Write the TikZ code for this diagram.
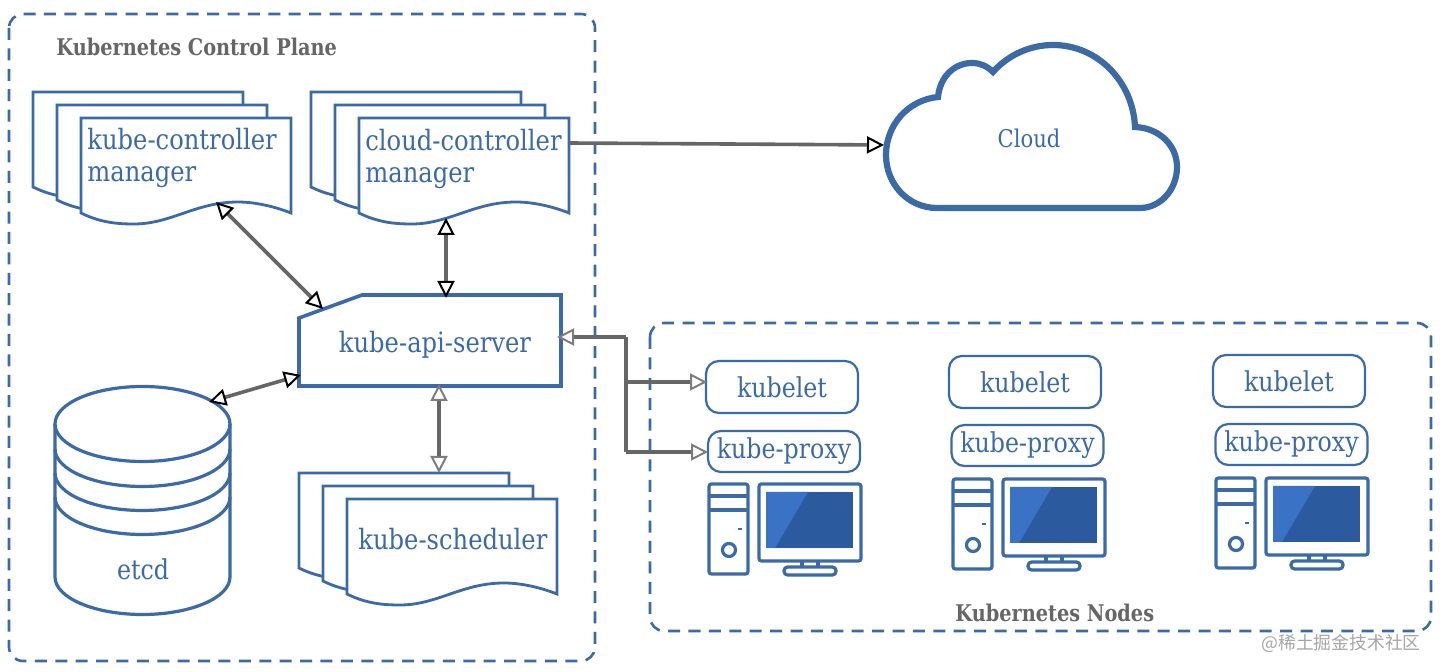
\documentclass[tikz,border=0pt]{standalone}
\usepackage{fontspec}
\usetikzlibrary{arrows.meta}
\newfontfamily\slab[FakeStretch=0.865]{DejaVu Serif}
\newfontfamily\slabb[FakeStretch=0.84]{DejaVu Serif Bold}
\newfontfamily\cjkwm{Noto Sans CJK SC}
\definecolor{kblue}{HTML}{3B6AA6}
\definecolor{kline}{HTML}{666666}
\definecolor{scrdark}{HTML}{2C5A9F}
\definecolor{scrlight}{HTML}{3A72C6}
\tikzset{
  x=.5pt,y=-.5pt,
  shapeline/.style={draw=kblue,line width=1.4pt,fill=white,line join=miter},
  dashbox/.style={draw=kblue,line width=1.3pt,rounded corners=7pt,dash pattern=on 6pt off 4.2pt},
  label/.style={text=kblue,inner sep=0pt,font=\slab\fontsize{14}{16}\selectfont},
  title/.style={text=kline,inner sep=0pt,font=\slabb\fontsize{11.5}{14}\selectfont},
  pillbox/.style={draw=kblue,line width=1.1pt,fill=white,rounded corners=6.5pt,inner sep=0pt,text=kblue,font=\slab\fontsize{13.7}{16}\selectfont},
  blackconn/.style={draw=kline,line width=1.8pt,{Triangle[length=8.5pt,width=8.5pt,fill=white,color=black,line width=1pt]}-{Triangle[length=8.5pt,width=8.5pt,fill=white,color=black,line width=1pt]}},
  grayconn/.style={draw=kline,line width=1.8pt,{Triangle[length=8.5pt,width=8.5pt,fill=white,color=kline!85,line width=1pt]}-{Triangle[length=8.5pt,width=8.5pt,fill=white,color=kline!85,line width=1pt]}},
  feed/.style={draw=kline,line width=1.8pt,-{Triangle[length=8.5pt,width=8.5pt,fill=white,color=kline!85,line width=1pt]}},
}
% one sheet: #1 left, #2 top
\newcommand{\sheet}[2]{%
  \draw[shapeline,shift={(#1,#2)}] (0,95) -- (0,0) -- (210,0) -- (210,95)
    .. controls (195,89) and (175,84) .. (157,84)
    .. controls (115,84) and (90,106) .. (53,106)
    .. controls (38,106) and (20,105) .. (0,95) -- cycle;}
\newcommand{\stackdoc}[2]{\sheet{#1}{#2}\sheet{\numexpr#1+24\relax}{\numexpr#2+13\relax}\sheet{\numexpr#1+48\relax}{\numexpr#2+26\relax}}
% computer, offset #1,#2
\newcommand{\pc}[2]{%
  \begin{scope}[shift={(#1,#2)}]
    \draw[kblue,line width=1.6pt,rounded corners=1.2pt] (709,484) rectangle (748,574);
    \draw[kblue,line width=1.6pt] (709,496) -- (748,496) (709,510) -- (748,510);
    \draw[kblue,line width=1.1pt] (738,529) -- (742,529);
    \draw[kblue,line width=1.6pt] (729,550) circle[radius=6.5];
    \draw[kblue,line width=1.6pt,rounded corners=1.2pt] (759,484) rectangle (861,561);
    \fill[scrdark] (766,492) rectangle (853,548);
    \fill[scrlight] (766,492) -- (808,492) -- (775,548) -- (766,548) -- cycle;
    \draw[kblue,line width=1.6pt] (802,561) -- (802,567) (818,561) -- (818,567);
    \draw[kblue,line width=1.6pt,rounded corners=1.8pt] (784,567) rectangle (836,575);
  \end{scope}}
\begin{document}
\begin{tikzpicture}
\useasboundingbox (0,0) rectangle (1440,672);
\fill[white] (0,0) rectangle (1440,672);
% dashed frames
\draw[dashbox] (9,14) rectangle (595,661);
\draw[dashbox] (650,323) rectangle (1431,631);
\node[title,anchor=base west] (cpt) at (56,56) {Kubernetes Control Plane};
\node[title,anchor=base west] (nt) at (955,622) {Kubernetes Nodes};
% documents
\stackdoc{33}{92}
\stackdoc{311}{92}
\stackdoc{299}{473}
\node[label,anchor=base west] (kcm1) at (87,150) {kube-controller};
\node[label,anchor=base west] (kcm2) at (87,182) {manager};
\node[label,anchor=base west] (ccm1) at (365,151) {cloud-controller};
\node[label,anchor=base west] (ccm2) at (365,183) {manager};
\node[label,anchor=base west] (sch) at (358,550) {kube-scheduler};
% api server
\draw[shapeline,line width=1.8pt] (299,318) -- (362,295) -- (561,295) -- (561,386) -- (299,386) -- cycle;
\node[label,anchor=base] (api) at (435,353) {kube-api-server};
% etcd
\draw[shapeline,line width=1.6pt] (55,424) -- (55,577) arc[start angle=180,end angle=360,x radius=87.5,y radius=-37.5] -- (230,424) arc[start angle=0,end angle=180,x radius=87.5,y radius=-37.5] -- cycle;
\draw[kblue,line width=1.6pt] (55,424) arc[start angle=180,end angle=360,x radius=87.5,y radius=-37.5];
\draw[kblue,line width=1.6pt] (55,449) arc[start angle=180,end angle=360,x radius=87.5,y radius=-37.5];
\draw[kblue,line width=1.6pt] (55,473) arc[start angle=180,end angle=360,x radius=87.5,y radius=-37.5];
\draw[kblue,line width=1.6pt] (55,497) arc[start angle=180,end angle=360,x radius=87.5,y radius=-37.5];
\node[label,anchor=base,font=\slab\fontsize{13.7}{14}\selectfont] (etcd) at (143,580) {etcd};
% cloud
\draw[draw=kblue,line width=3.1pt,fill=white,line join=miter]
  (937,208) .. controls (908,208) and (886,184) .. (886,155)
  .. controls (886,125) and (908,100) .. (938,97)
  .. controls (940,77) and (954,63) .. (972,63)
  .. controls (980,63) and (987,66) .. (993,72)
  .. controls (1008,55) and (1030,45) .. (1053,45)
  .. controls (1098,45) and (1133,82) .. (1135,127)
  .. controls (1160,128) and (1177,146) .. (1177,167)
  .. controls (1177,190) and (1160,208) .. (1140,208) -- cycle;
\node[label,font=\slab\fontsize{12.2}{14}\selectfont,anchor=base] (cloud) at (1029,148) {Cloud};
% node boxes
\node[pillbox,minimum width=76pt,minimum height=26pt] (kl1) at (782,387) {kubelet};
\node[pillbox,minimum width=76pt,minimum height=20.5pt] (kp1) at (784,451.5) {kube-proxy};
\node[pillbox,minimum width=76pt,minimum height=26pt] (kl2) at (1025,382) {kubelet};
\node[pillbox,minimum width=76pt,minimum height=20.5pt] (kp2) at (1027.5,445.5) {kube-proxy};
\node[pillbox,minimum width=76pt,minimum height=26pt] (kl3) at (1289,381) {kubelet};
\node[pillbox,minimum width=76pt,minimum height=20.5pt] (kp3) at (1291.5,444.5) {kube-proxy};
\pc{0}{0}
\pc{244}{-5}
\pc{507}{-6}
% connector ends
\coordinate (kcmP) at (216,202);
\coordinate (apiA) at (323,309);
\coordinate (ccmP) at (446,218);
\coordinate (apiB) at (446,298);
\coordinate (etcdP) at (209,402);
\coordinate (apiC) at (301,375);
\coordinate (apiD) at (439,384);
\coordinate (schP) at (439,473);
\coordinate (ccmR) at (569,143);
\coordinate (cloudL) at (884,145);
\coordinate (apiE) at (557,337);
\coordinate (jn) at (626,337);
\coordinate (jk) at (626,382);
\coordinate (jp) at (626,452);
\coordinate (kl1P) at (707,382);
\coordinate (kp1P) at (708,452);
% connectors
\draw[blackconn] (kcmP) -- (apiA);
\draw[blackconn] (ccmP) -- (apiB);
\draw[blackconn] (etcdP) -- (apiC);
\draw[grayconn] (apiD) -- (schP);
\draw[feed,-{Triangle[length=8.5pt,width=8.5pt,fill=white,color=black,line width=1pt]}] (ccmR) -- (cloudL);
\draw[draw=kline,line width=1.8pt,line join=miter] (jn) -- (jp);
\draw[feed] (jn) -- (apiE);
\draw[feed] (jk) -- (kl1P);
\draw[feed] (jp) -- (kp1P);
% watermark
\node[inner sep=0pt,text=black!35,anchor=east,font=\cjkwm\fontsize{8.9}{10}\selectfont] (wm) at (1421,643) {@稀土掘金技术社区};
\end{tikzpicture}
\end{document}
